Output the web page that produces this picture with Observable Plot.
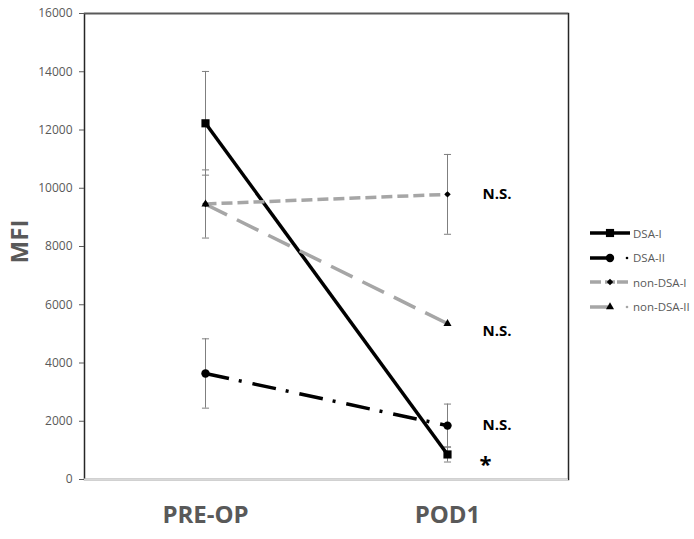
<!DOCTYPE html>
<html><head><meta charset="utf-8">
<script src="https://cdn.jsdelivr.net/npm/d3@7"></script>
<script src="https://cdn.jsdelivr.net/npm/@observablehq/plot@0.6"></script>
<style>
body{margin:0;background:#fff;font-family:"Open Sans",sans-serif;}
#wrap{position:relative;width:694px;height:539px;}
#legend{position:absolute;left:588px;top:221px;}
</style></head><body><div id="wrap"><div id="legend"></div></div>
<script>
const categories = ["PRE-OP", "POD1"];
const seriesNames = ["DSA-I", "DSA-II", "non-DSA-I", "non-DSA-II"];
const dsaI = [12230, 860];
const dsaIErr = [1780, 260];
const dsaII = [3640, 1850];
const dsaIIErr = [1190, 740];
const nonDsaI = [9460, 9790];
const nonDsaIErr = [1170, 1370];
const nonDsaII = [9450, 5350];
const nonDsaIIErr = [0, 0];
const yTicks = [0, 2000, 4000, 6000, 8000, 10000, 12000, 14000, 16000];
const annotLabels = ["N.S.", "N.S.", "N.S.", "*"];
const annotValues = [9800, 5100, 1880, 700];

const values = [dsaI, dsaII, nonDsaI, nonDsaII];
const errs = [dsaIErr, dsaIIErr, nonDsaIErr, nonDsaIIErr];
const styles = [
  {stroke: "#000", dash: null, symbol: "square", r: 4.6, mfill: "#000"},
  {stroke: "#000", dash: "24,10,3,11", symbol: "circle", r: 4.2, mfill: "#000"},
  {stroke: "#a6a6a6", dash: "11,5", symbol: "diamond2", r: 2.9, mfill: "#000"},
  {stroke: "#a6a6a6", dash: "24,11", symbol: "triangle", r: 3, mfill: "#000"}
];

const rows = [];
seriesNames.forEach((s, i) => categories.forEach((c, j) => rows.push({series: s, si: i, cat: c, value: values[i][j], err: errs[i][j]})));
const errRows = rows.filter(d => d.err > 0);
const annots = annotLabels.map((l, i) => ({label: l, value: annotValues[i], cat: categories[1]}));

const capSymbol = {draw(ctx, size) { const w = Math.sqrt(size) / 2; ctx.moveTo(-w, 0); ctx.lineTo(w, 0); }};

const marks = [
  Plot.frame({stroke: "#262626", strokeWidth: 1.5}),
  Plot.ruleY([16000], {stroke: "#595959", strokeWidth: 1.5}),
  Plot.ruleY([0], {stroke: "#d9d9d9", strokeWidth: 2}),
  Plot.axisY({ticks: yTicks, tickSize: 5, tickPadding: 7, tickFormat: d => String(d), fontSize: 12, color: "#595959", label: null}),
  Plot.axisX({tickSize: 0, tickPadding: 26, fontSize: 24, fontWeight: "bold", color: "#595959", label: null}),
  Plot.text(["MFI"], {frameAnchor: "left", textAnchor: "middle", rotate: -90, dx: -64, dy: -5, fontSize: 24, fontWeight: "bold", fill: "#595959"}),
  Plot.ruleX(errRows, {x: "cat", y1: d => d.value - d.err, y2: d => d.value + d.err, stroke: "#7f7f7f", strokeWidth: 1}),
  Plot.dot(errRows, {x: "cat", y: d => d.value - d.err, symbol: capSymbol, r: 4, stroke: "#7f7f7f", fill: "none", strokeWidth: 1}),
  Plot.dot(errRows, {x: "cat", y: d => d.value + d.err, symbol: capSymbol, r: 4, stroke: "#7f7f7f", fill: "none", strokeWidth: 1})
];
seriesNames.forEach((s, i) => {
  const st = styles[i];
  const data = rows.filter(d => d.si === i);
  marks.push(Plot.line(data, {x: "cat", y: "value", stroke: st.stroke, strokeWidth: 3.5, strokeDasharray: st.dash, strokeLinecap: "butt"}));
});
seriesNames.forEach((s, i) => {
  const st = styles[i];
  const data = rows.filter(d => d.si === i);
  marks.push(Plot.dot(data, {x: "cat", y: "value", symbol: st.symbol, r: st.r, fill: st.mfill, stroke: "none"}));
});
marks.push(Plot.text(annots.filter(d => d.label !== "*"), {x: "cat", y: "value", text: "label", dx: 35, textAnchor: "start", fontSize: 15, fontWeight: "bold", fill: "#000"}));
marks.push(Plot.text(annots.filter(d => d.label === "*"), {x: "cat", y: "value", text: "label", dx: 32, dy: 6, textAnchor: "start", fontSize: 22, fontWeight: "bold", fill: "#000"}));

const chart = Plot.plot({
  width: 694, height: 539,
  marginLeft: 84, marginRight: 126, marginTop: 13, marginBottom: 60,
  style: {fontFamily: "'Open Sans', sans-serif", background: "#fff"},
  x: {type: "point", domain: categories, padding: 0.5},
  y: {domain: [0, 16000], axis: null},
  marks
});
document.getElementById("wrap").prepend(chart);

// legend
const leg = d3.select("#legend");
seriesNames.forEach((s, i) => {
  const st = styles[i];
  const row = leg.append("div").style("display", "flex").style("align-items", "center").style("height", "24.5px");
  const svg = row.append("svg").attr("width", 44).attr("height", 14);
  const sym = d3.symbol().type({square: d3.symbolSquare, circle: d3.symbolCircle, diamond2: d3.symbolDiamond2, triangle: d3.symbolTriangle}[st.symbol]).size(Math.PI * st.r * st.r);
  if (i === 0) {
    svg.append("line").attr("x1", 2).attr("x2", 42).attr("y1", 7).attr("y2", 7).attr("stroke", st.stroke).attr("stroke-width", 3.5);
  } else if (i === 1 || i === 3) {
    svg.append("line").attr("x1", 2).attr("x2", 20).attr("y1", 7).attr("y2", 7).attr("stroke", st.stroke).attr("stroke-width", 3.5);
    svg.append("circle").attr("cx", 39).attr("cy", 7).attr("r", 1.3).attr("fill", st.stroke);
  } else {
    svg.append("line").attr("x1", 2).attr("x2", 13).attr("y1", 7).attr("y2", 7).attr("stroke", st.stroke).attr("stroke-width", 3.5);
    svg.append("line").attr("x1", 17).attr("x2", 27).attr("y1", 7).attr("y2", 7).attr("stroke", st.stroke).attr("stroke-width", 3.5);
    svg.append("line").attr("x1", 29).attr("x2", 40).attr("y1", 7).attr("y2", 7).attr("stroke", st.stroke).attr("stroke-width", 3.5);
  }
  svg.append("path").attr("d", sym()).attr("transform", "translate(22,7)").attr("fill", st.mfill);
  row.append("span").text(s).style("font-size", "11.5px").style("color", "#595959").style("margin-left", "1px");
});
</script></body></html>
